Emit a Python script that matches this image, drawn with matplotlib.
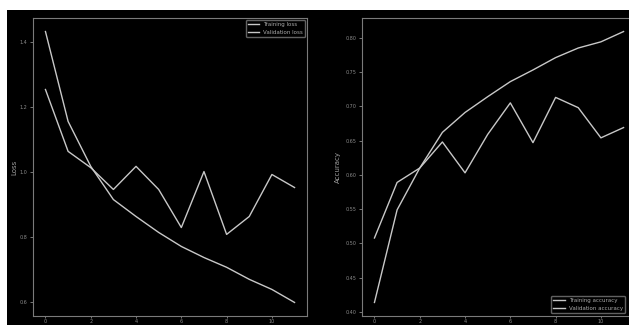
import matplotlib
matplotlib.use("Agg")
from matplotlib import pyplot as plt
from matplotlib.patches import Rectangle

plt.style.use("dark_background")

epochs = list(range(12))
train_loss = [1.431, 1.155, 1.017, 0.915, 0.863, 0.814, 0.771, 0.737, 0.707, 0.670, 0.639, 0.599]
val_loss = [1.253, 1.063, 1.013, 0.946, 1.017, 0.946, 0.829, 1.001, 0.808, 0.863, 0.992, 0.952]
train_acc = [0.414, 0.549, 0.610, 0.662, 0.691, 0.714, 0.736, 0.753, 0.771, 0.785, 0.794, 0.809]
val_acc = [0.508, 0.589, 0.610, 0.648, 0.603, 0.659, 0.705, 0.647, 0.713, 0.698, 0.654, 0.669]
x_ticks = [0, 2, 4, 6, 8, 10]

fig = plt.figure(figsize=(6.29, 3.25), dpi=100)
fig.patch.set_facecolor("white")
fig.patches.append(Rectangle((7 / 629, 0), 1, 1 - 10 / 325, transform=fig.transFigure,
                             facecolor="black", edgecolor="none", zorder=-1))

ax1 = fig.add_axes([33 / 629, 9 / 325, 274 / 629, 298 / 325])
ax2 = fig.add_axes([362 / 629, 9 / 325, 274 / 629, 298 / 325])

line_col = "#c8c8c8"
for ax in (ax1, ax2):
    ax.set_facecolor("black")
    for s in ax.spines.values():
        s.set_color("#7a7a7a")
        s.set_linewidth(0.8)
    ax.tick_params(colors="#8a8a8a", labelsize=3.5, length=2, width=0.6, pad=2)
    ax.tick_params(axis="x", length=1.5, pad=0.5)
    ax.set_xticks(x_ticks)

ax1.plot(epochs, train_loss, color=line_col, lw=1, label="Training loss")
ax1.plot(epochs, val_loss, color=line_col, lw=1, label="Validation loss")
ax1.set_yticks([0.6, 0.8, 1.0, 1.2, 1.4])
ax1.set_ylabel("Loss", fontsize=5, color="#a0a0a0", labelpad=2)
leg = ax1.legend(loc="upper right", fontsize=4, frameon=True, facecolor="black",
                 edgecolor="#7a7a7a", handlelength=2, borderaxespad=0.3)
for t in leg.get_texts():
    t.set_color("#aaaaaa")

ax2.plot(epochs, train_acc, color=line_col, lw=1, label="Training accuracy")
ax2.plot(epochs, val_acc, color=line_col, lw=1, label="Validation accuracy")
ax2.set_yticks([0.40, 0.45, 0.50, 0.55, 0.60, 0.65, 0.70, 0.75, 0.80])
ax2.set_ylabel("Accuracy", fontsize=5, color="#a0a0a0", labelpad=3)
# keep the legend inside the picture (its right edge sits just before x=629)
leg = ax2.legend(loc="lower right", bbox_to_anchor=(627 / 629, 9 / 325 + 0.004),
                 bbox_transform=fig.transFigure, fontsize=4, frameon=True,
                 facecolor="black", edgecolor="#7a7a7a", handlelength=2,
                 borderaxespad=0.3)
for t in leg.get_texts():
    t.set_color("#aaaaaa")

fig.savefig("out.png", dpi=100, facecolor=fig.get_facecolor())
